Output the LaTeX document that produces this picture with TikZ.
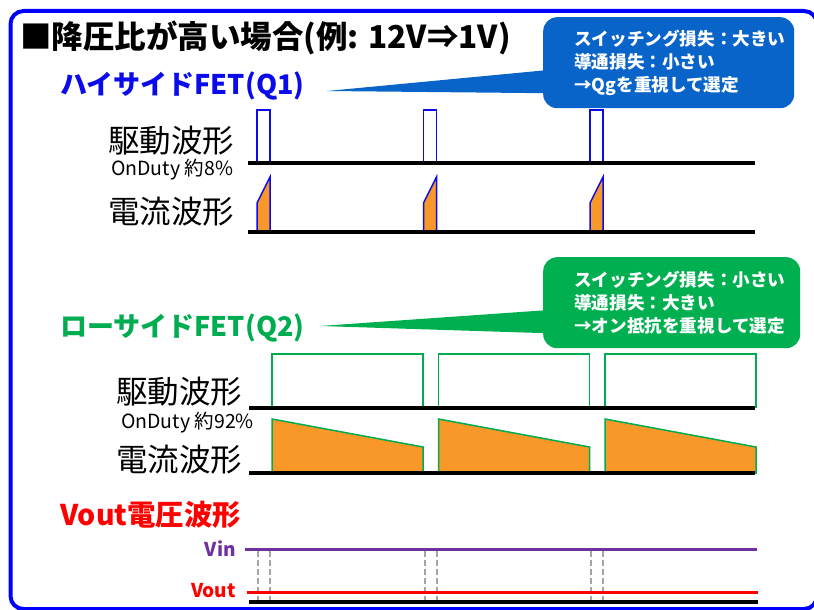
\documentclass[tikz,border=0pt]{standalone}
\usepackage{fontspec}
\setmainfont{Noto Sans CJK JP}
\definecolor{frameblue}{RGB}{0,0,255}
\definecolor{calloutblue}{RGB}{8,100,200}
\definecolor{q1blue}{RGB}{10,10,235}
\definecolor{calloutgreen}{RGB}{0,176,80}
\definecolor{q2green}{RGB}{0,172,80}
\definecolor{wforange}{RGB}{247,152,40}
\definecolor{vinpurple}{RGB}{112,48,160}
\definecolor{voutred}{RGB}{255,0,0}
\definecolor{dashgray}{RGB}{165,165,165}
\tikzset{
  titletext/.style={anchor=west, inner sep=0pt, font=\fontsize{31.5}{36}\selectfont\bfseries},
  headtext/.style={anchor=west, inner sep=0pt, font=\fontsize{27}{32}\selectfont\bfseries},
  wavelabel/.style={anchor=west, inner sep=0pt, font=\fontsize{31.5}{36}\selectfont},
  dutytext/.style={anchor=west, inner sep=0pt, font=\fontsize{19.5}{22}\selectfont},
  levellabel/.style={anchor=east, inner sep=0pt, font=\fontsize{19}{22}\selectfont\bfseries},
  calloutbox/.style={rounded corners=14pt, minimum width=#1, minimum height=91pt, inner sep=0pt},
  callouttext/.style={anchor=west, inner sep=0pt, text=white, align=left, font=\fontsize{17.6}{23}\selectfont\bfseries},
  baseline/.style={line width=4pt, black},
  q1wave/.style={draw=q1blue, line width=1.5pt},
  q2wave/.style={draw=q2green, line width=1.5pt},
  levelline/.style={line width=3pt},
  gapline/.style={dashgray, line width=1.2pt, dash pattern=on 6pt off 3pt}
}
\begin{document}
\begin{tikzpicture}[x=1pt,y=-1pt]
\path[use as bounding box, clip] (0,0) rectangle (814,610);
% frame
\draw[frameblue, line width=4pt, rounded corners=13pt] (10.5,11) rectangle (817,609);

% title
\node[titletext] (title) at (20,38) {■降圧比が高い場合(例: 12V⇒1V)};

% ---------- high side ----------
\node[headtext, text=q1blue] (hshead) at (60,86) {ハイサイドFET(Q1)};
\node[calloutbox=251pt, fill=calloutblue, anchor=north west] (hsbox) at (543,17) {};
\coordinate (hstip) at (327,91);
\fill[calloutblue] ([xshift=3pt,yshift=-7.5pt]hsbox.west) -- (hstip) -- ([xshift=3pt,yshift=-30.5pt]hsbox.west) -- cycle;
\node[callouttext] (hstext) at (574,62.5) {スイッチング損失：大きい\\導通損失：小さい\\→Qgを重視して選定};

\node[wavelabel] (hsdrive) at (108,141) {駆動波形};
\node[dutytext] (hsduty) at (111,170) {OnDuty 約8\%};
\node[wavelabel] (hscurr) at (108,212) {電流波形};

\foreach \x in {257,423.5,590}{
  \draw[q1wave] (\x,163) -- (\x,110) -- (\x+13,110) -- (\x+13,163);
  \filldraw[q1wave, fill=wforange] (\x,232) -- (\x,203) -- (\x+13,177) -- (\x+13,232) -- cycle;
}
\draw[baseline] (248,163) -- (755,163);
\draw[baseline] (248,232) -- (755,232);

% ---------- low side ----------
\node[headtext, text=q2green] (lshead) at (60,328) {ローサイドFET(Q2)};
\node[calloutbox=257pt, fill=calloutgreen, anchor=north west] (lsbox) at (543,257) {};
\coordinate (lstip) at (320,326);
\fill[calloutgreen] ([xshift=3pt,yshift=-7.5pt]lsbox.west) -- (lstip) -- ([xshift=3pt,yshift=-30.5pt]lsbox.west) -- cycle;
\node[callouttext] (lstext) at (574,303) {スイッチング損失：小さい\\導通損失：大きい\\→オン抵抗を重視して選定};

\node[wavelabel] (lsdrive) at (116,392) {駆動波形};
\node[dutytext] (lsduty) at (121,423) {OnDuty 約92\%};
\node[wavelabel] (lscurr) at (116,460) {電流波形};

\foreach \x in {272,438.5,605}{
  \draw[q2wave] (\x,408) -- (\x,354) -- (\x+151,354) -- (\x+151,408);
  \filldraw[q2wave, fill=wforange] (\x,473) -- (\x,419) -- (\x+151,447) -- (\x+151,473) -- cycle;
}
\draw[baseline] (249,408) -- (755,408);
\draw[baseline] (249,473) -- (755,473);

% ---------- Vout ----------
\node[headtext, text=voutred, font=\fontsize{28.5}{32}\selectfont\bfseries] (vouthead) at (60,515) {Vout電圧波形};
\node[levellabel, text=vinpurple] (vinlabel) at (236,549) {Vin};
\node[levellabel, text=voutred] (voutlabel) at (236,591) {Vout};
\foreach \x in {258,270,425,437,591,603}{
  \draw[gapline] (\x,551) -- (\x,600);
}
\draw[levelline, vinpurple] (245,549) -- (757,549);
\draw[levelline, voutred] (247,592) -- (758,592);
\draw[baseline] (249,602) -- (758,602);
\end{tikzpicture}
\end{document}
